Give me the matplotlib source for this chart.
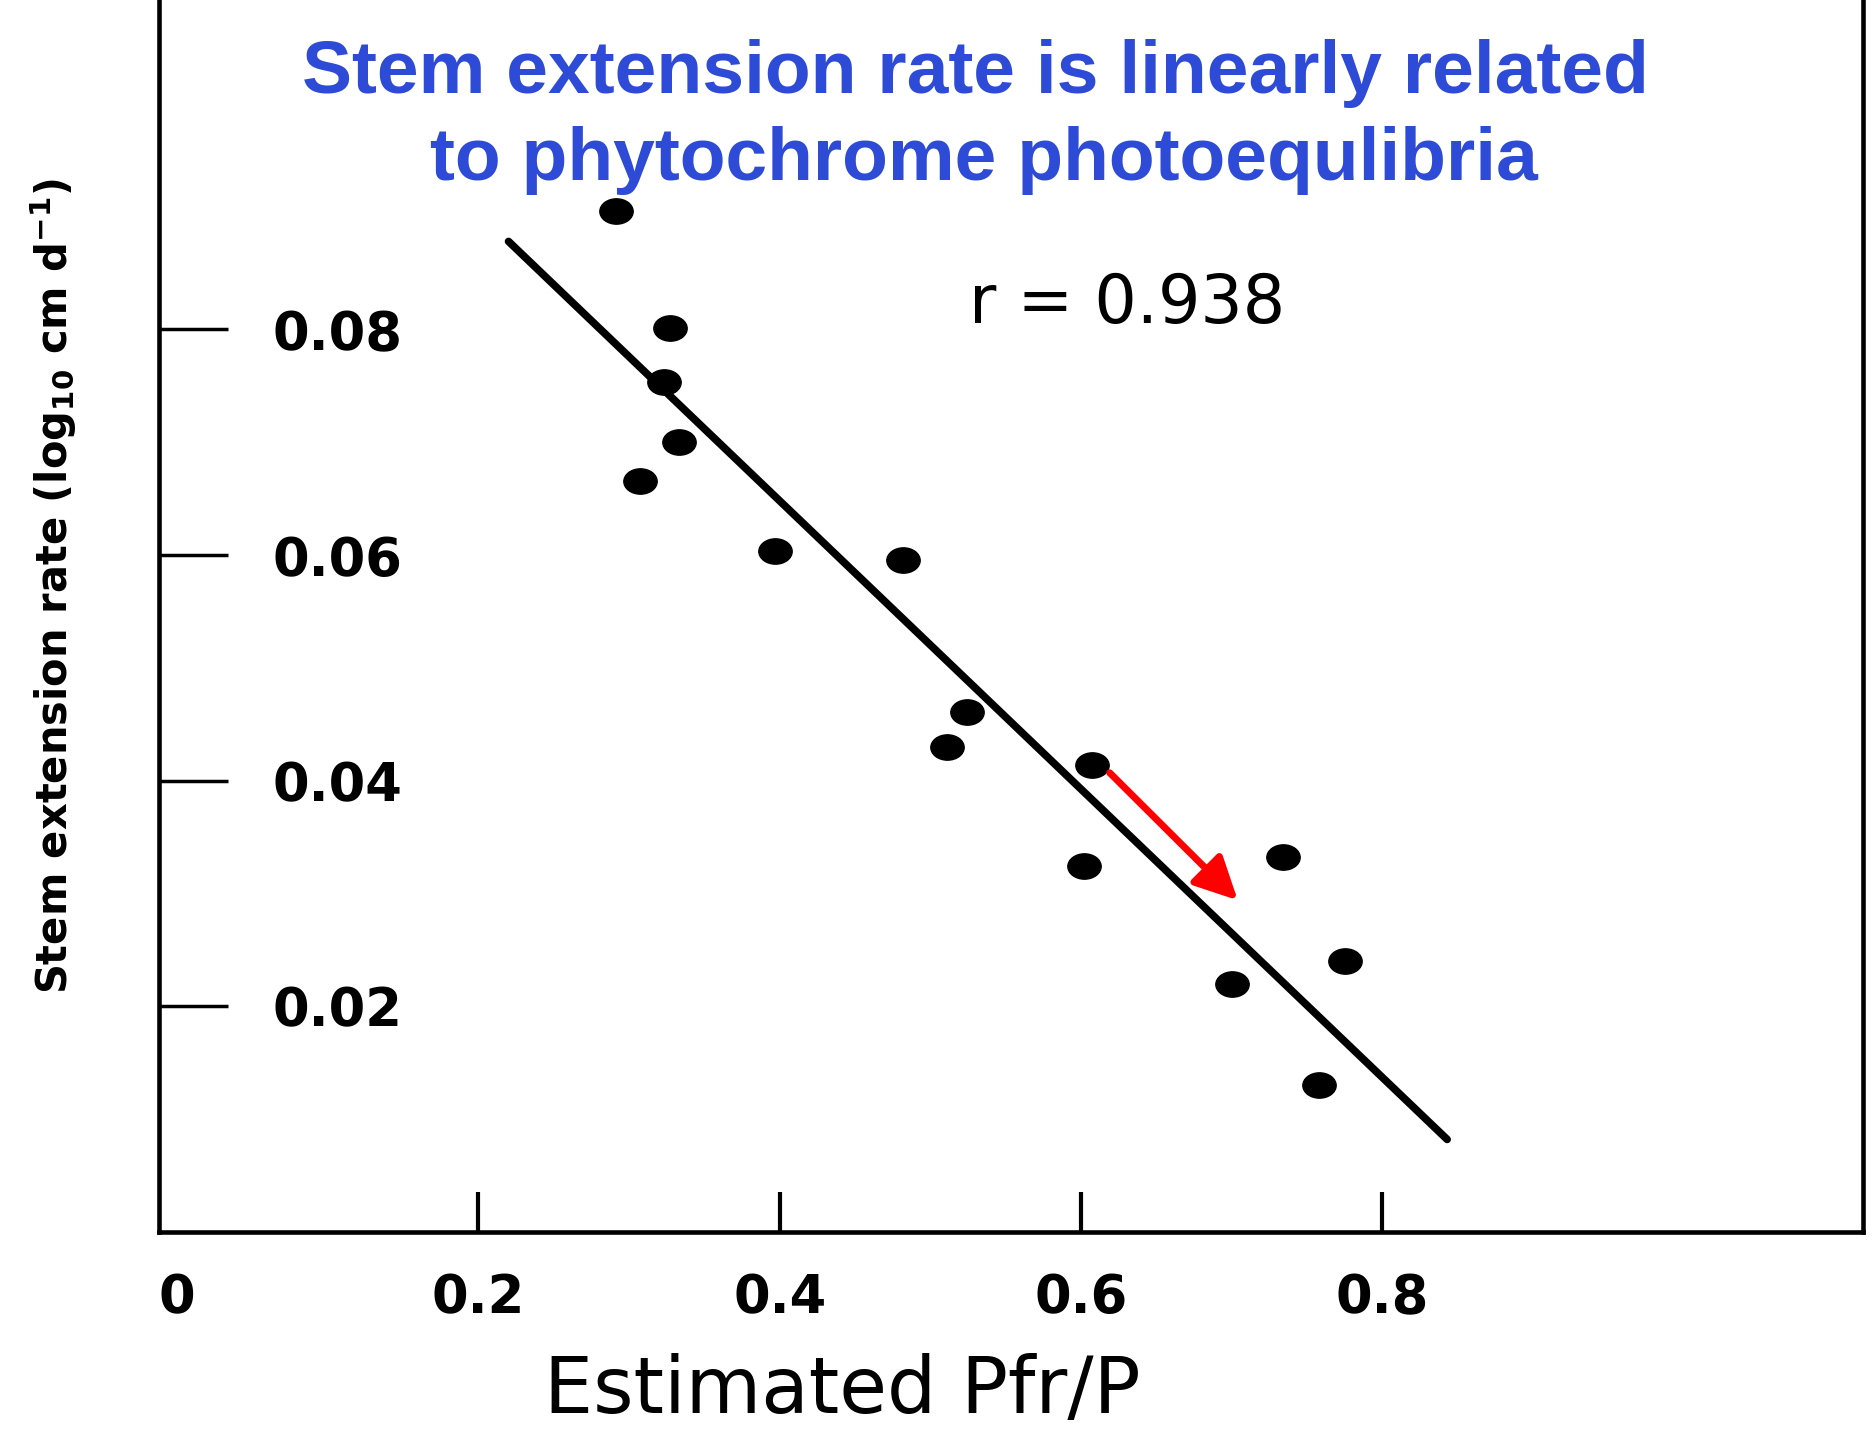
"""
Stem extension rate vs estimated Pfr/P (phytochrome photoequilibrium).
Output: out.png
"""

import matplotlib
matplotlib.use("Agg")
import matplotlib.pyplot as plt
from matplotlib.path import Path

# datos
PFR_P = [0.291, 0.327, 0.323, 0.333, 0.307, 0.397, 0.482, 0.524, 0.511,
         0.607, 0.602, 0.734, 0.775, 0.700, 0.758]
STEM_RATE = [0.0905, 0.0801, 0.0753, 0.0700, 0.0666, 0.0604, 0.0596, 0.0461,
             0.0430, 0.0414, 0.0324, 0.0332, 0.0240, 0.0220, 0.0130]

# recta de regresión (extremos tal como se dibujan)
FIT_X = [0.220, 0.843]
FIT_Y = [0.0878, 0.0082]

# flecha roja
ARROW_FROM = (0.619, 0.0407)
ARROW_TO = (0.704, 0.0294)

X_TICKS = [0, 0.2, 0.4, 0.6, 0.8]
X_TICKLABELS = ["0", "0.2", "0.4", "0.6", "0.8"]
Y_TICKS = [0.02, 0.04, 0.06, 0.08]
Y_TICKLABELS = ["0.02", "0.04", "0.06", "0.08"]

TITLE_1 = "Stem extension rate is linearly related"
TITLE_2 = "to phytochrome photoequlibria"
R_TEXT = "r = 0.938"
BLUE = "#2d4bd6"

plt.rcParams["mathtext.default"] = "regular"

fig = plt.figure(figsize=(18.75, 14.37), dpi=100)
ax = fig.add_axes([0.0848, 0.1427, 0.9088, 0.8573])

# marcador elíptico (los puntos del escaneo son achatados)
circ = Path.unit_circle()
ellipse = Path(circ.vertices * [1.0, 0.76], circ.codes)

ax.plot(FIT_X, FIT_Y, color="black", lw=5.5, solid_capstyle="round")
ax.plot(PFR_P, STEM_RATE, linestyle="none", marker=ellipse, markersize=24,
        color="black")

ax.annotate("", xy=ARROW_TO, xytext=ARROW_FROM,
            arrowprops=dict(arrowstyle="-|>,head_length=26,head_width=13",
                            mutation_scale=1, color="red", lw=5,
                            shrinkA=0, shrinkB=0))

ax.set_xlim(-0.012, 1.119)
ax.set_ylim(0, 0.1092)

# ejes
for side in ["left", "right", "bottom"]:
    ax.spines[side].set_linewidth(3.3)
ax.spines["top"].set_visible(False)

ax.set_xticks(X_TICKS)
ax.set_xticklabels(X_TICKLABELS, fontsize=38, fontweight="bold")
ax.xaxis.get_major_ticks()[0].tick1line.set_visible(False)
ax.tick_params(axis="x", direction="in", length=29, width=3, pad=29)

ax.set_yticks(Y_TICKS)
ax.set_yticklabels(Y_TICKLABELS, fontsize=38, fontweight="bold")
ax.tick_params(axis="y", direction="in", length=50, width=2.5, pad=-175)

ax.set_xlabel("Estimated Pfr/P", fontsize=56)
ax.xaxis.set_label_coords(0.401, -0.098)
ax.set_ylabel("Stem extension rate (log$_{10}$ cm d$^{-1}$)", fontsize=30,
              fontweight="bold")
ax.yaxis.set_label_coords(-0.047, 0.524)

ax.text(0.568, 0.738, R_TEXT, transform=ax.transAxes, fontsize=48,
        ha="center", va="baseline")

fig.text(0.520, 0.935, TITLE_1, fontsize=54, fontweight="bold", color=BLUE,
         family="Liberation Sans", ha="center", va="baseline")
fig.text(0.525, 0.875, TITLE_2, fontsize=54, fontweight="bold", color=BLUE,
         family="Liberation Sans", ha="center", va="baseline")

fig.savefig("out.png", dpi=100)
plt.close(fig)
